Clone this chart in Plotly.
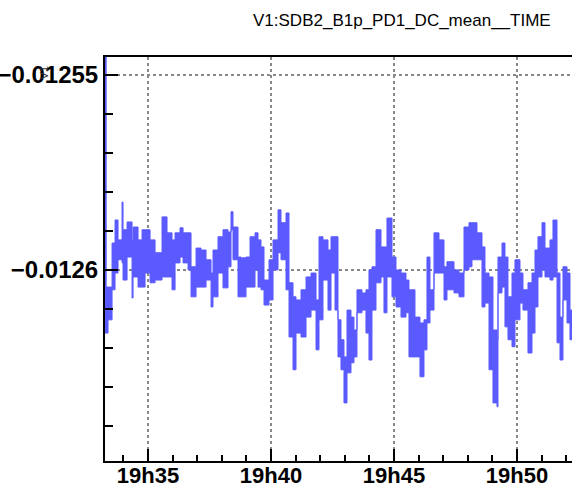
import pandas as pd
import plotly.graph_objects as go

# secondes après 19h33:00 (début de chaque pas)
t_sec = [15, 17.8, 22.4, 32.2, 39.5, 46.8, 56.6, 59.0, 68.8, 81.0, 83.4, 95.6, 105.4, 112.7, 124.9, 137.1, 154.1, 166.3, 178.5, 185.9,
         198.0, 205.4, 217.6, 224.9, 237.1, 249.3, 261.5, 273.7, 278.5, 290.7, 302.9, 315.1, 322.4, 327.3, 339.5, 346.8, 359.0, 368.8, 381.0,
         388.3, 395.6, 402.9, 415.1, 424.9, 437.1, 444.4, 456.6, 463.9, 473.7, 481.0, 493.2, 505.4, 517.6, 529.8, 537.1, 546.8, 559.0, 566.4,
         576.1, 583.4, 590.7, 598.0, 605.4, 615.1, 622.4, 629.7, 641.9, 651.7, 659.0, 666.3, 676.1, 688.3, 695.6, 702.9, 715.1, 724.9, 737.1, 749.3, 756.6,
         771.2, 783.4, 793.2, 800.5, 807.8, 817.6, 829.8, 842.0, 849.3, 866.4, 878.6, 890.8, 903.0, 910.3, 922.5, 934.7, 942.0, 951.8,
         961.5, 971.3, 973.7, 983.5, 990.8, 998.1, 1007.9, 1015.2, 1027.4, 1034.7, 1046.9, 1056.7, 1064.0, 1071.3, 1081.1, 1088.4, 1100.6, 1107.9,
         1117.7, 1125.0, 1132.3, 1142.1, 1149.4, 1154.3]

# valeurs hautes / basses de chaque pas (en 1e-6)
val_haut = [-12540, -12604.4, -12604.4, -12593.1, -12587.2, -12592.3, -12582.6, -12589.7, -12587.7, -12592.3, -12589.0, -12592.3, -12589.7, -12589.7, -12592.3, -12595.6, -12586.4, -12590.5, -12592.3, -12590.5,
            -12589.2, -12590.5, -12590.5, -12599.2, -12594.4, -12594.9, -12597.4, -12600.8, -12594.9, -12591.5, -12589.7, -12590.3, -12585.1, -12589.0, -12596.7, -12596.9, -12596.7, -12591.5, -12590.5,
            -12592.3, -12594.1, -12602.6, -12597.4, -12592.3, -12584.6, -12587.9, -12585.4, -12603.3, -12606.9, -12607.7, -12605.1, -12601.8, -12600.8, -12607.7, -12591.5, -12592.3, -12594.9, -12591.5,
            -12591.5, -12612.8, -12617.9, -12622.3, -12610.3, -12612.1, -12615.4, -12605.1, -12605.9, -12605.1, -12600.0, -12599.2, -12589.7, -12594.1, -12594.1, -12586.7, -12596.7, -12600.0, -12600.8, -12602.6, -12605.1,
            -12612.1, -12613.6, -12612.8, -12596.7, -12605.1, -12590.5, -12592.3, -12599.2, -12597.9, -12600.0, -12600.8, -12589.0, -12587.9, -12587.9, -12590.5, -12594.1, -12600.8, -12601.8,
            -12615.4, -12617.9, -12596.7, -12593.1, -12596.7, -12606.9, -12600.8, -12597.4, -12600.8, -12605.1, -12603.3, -12600.8, -12594.9, -12591.5, -12587.9, -12594.4, -12592.3,
            -12587.2, -12600.8, -12612.1, -12599.2, -12600.8, -12610.3, -12610.3]
val_bas = [-12616.2, -12616.2, -12612.8, -12605.1, -12600.8, -12597.4, -12598.2, -12602.6, -12596.7, -12607.2, -12601.8, -12604.4, -12604.4, -12600.8, -12603.3, -12602.6, -12601.8, -12601.8, -12605.1, -12598.2,
           -12596.7, -12598.2, -12600.0, -12606.9, -12604.4, -12604.4, -12602.6, -12609.5, -12606.9, -12600.8, -12604.6, -12599.2, -12589.7, -12597.4, -12606.9, -12606.9, -12604.4, -12604.4, -12600.0,
           -12604.4, -12605.1, -12609.0, -12607.7, -12600.0, -12595.6, -12597.4, -12605.1, -12617.2, -12625.6, -12616.2, -12617.2, -12612.1, -12610.3, -12620.5, -12612.8, -12602.6, -12610.3, -12600.8,
           -12610.3, -12622.3, -12625.6, -12634.1, -12626.4, -12623.8, -12622.3, -12611.0, -12610.3, -12616.2, -12623.1, -12610.3, -12603.3, -12601.8, -12611.0, -12601.8, -12606.9, -12609.5, -12612.1, -12611.0, -12622.3,
           -12622.3, -12627.4, -12620.5, -12613.6, -12610.3, -12600.8, -12600.8, -12607.7, -12605.1, -12605.9, -12606.9, -12600.0, -12599.2, -12597.4, -12597.4, -12609.5, -12608.5, -12625.6,
           -12634.1, -12635.1, -12605.9, -12604.4, -12614.6, -12617.9, -12619.7, -12612.8, -12608.5, -12610.3, -12621.3, -12616.2, -12609.5, -12601.8, -12600.0, -12601.8, -12602.6,
           -12601.8, -12618.7, -12623.1, -12607.7, -12613.6, -12617.9, -12617.9]

debut = pd.Timestamp("2012-06-01 19:33:00")
temps = debut + pd.to_timedelta(t_sec, unit="s")
haut = [v * 1e-6 for v in val_haut]
bas = [v * 1e-6 for v in val_bas]

bleu = "rgb(90,90,255)"

fig = go.Figure()
fig.add_trace(go.Scatter(x=temps, y=bas, mode="lines", line=dict(color=bleu, width=1, shape="hv"),
                         showlegend=False, hoverinfo="skip"))
fig.add_trace(go.Scatter(x=temps, y=haut, mode="lines", line=dict(color=bleu, width=1, shape="hv"),
                         fill="tonexty", fillcolor=bleu, showlegend=False))

police_ticks = dict(family="Liberation Sans, Arial", size=24, color="black", weight="bold")

fig.update_layout(
    width=572, height=489,
    margin=dict(l=105, r=0, t=57, b=28),
    paper_bgcolor="white", plot_bgcolor="white",
    xaxis=dict(
        type="date",
        range=[debut + pd.Timedelta(seconds=15), debut + pd.Timedelta(seconds=1154.3)],
        tick0="2012-06-01 19:35:00", dtick=300000, tickformat="%Hh%M",
        ticks="inside", ticklen=12, tickwidth=1.5, tickcolor="black",
        minor=dict(ticks="inside", ticklen=6, tickwidth=1.5, tickcolor="black", dtick=60000, showgrid=False),
        showgrid=True, gridcolor="#888888", griddash="dot", gridwidth=1.5,
        showline=True, linecolor="black", linewidth=2, mirror=True,
        tickfont=dict(family="Liberation Sans, Arial", size=22, color="black", weight="bold"),
        ticklabelstandoff=-6,
        automargin=False, zeroline=False,
    ),
    yaxis=dict(
        range=[-0.012649, -0.0125454],
        tick0=-0.0126, dtick=0.00005, tickformat=".5~g",
        ticks="inside", ticklen=13, tickwidth=1.5, tickcolor="black",
        minor=dict(ticks="inside", ticklen=8, tickwidth=1.5, tickcolor="black", dtick=0.00001, showgrid=False),
        showgrid=True, gridcolor="#888888", griddash="dot", gridwidth=1.5,
        showline=True, linecolor="black", linewidth=2, mirror=True,
        tickfont=police_ticks, automargin=False, zeroline=False,
    ),
    annotations=[
        dict(text="V1:SDB2_B1p_PD1_DC_mean__TIME", xref="paper", yref="paper", x=0.96, y=1.09,
             xanchor="right", yanchor="middle", showarrow=False,
             font=dict(family="Liberation Sans, Arial", size=17, color="black")),
        dict(text="V1", xref="paper", yref="paper", x=-0.13, y=0.96, textangle=-90,
             xanchor="center", yanchor="middle", showarrow=False,
             font=dict(family="Liberation Sans, Arial", size=11, color="#333333")),
    ],
)

# pas de marge autour de la page
fig.write_html("out.html", config={"displayModeBar": False},
               post_script="document.body.style.margin='0';")
